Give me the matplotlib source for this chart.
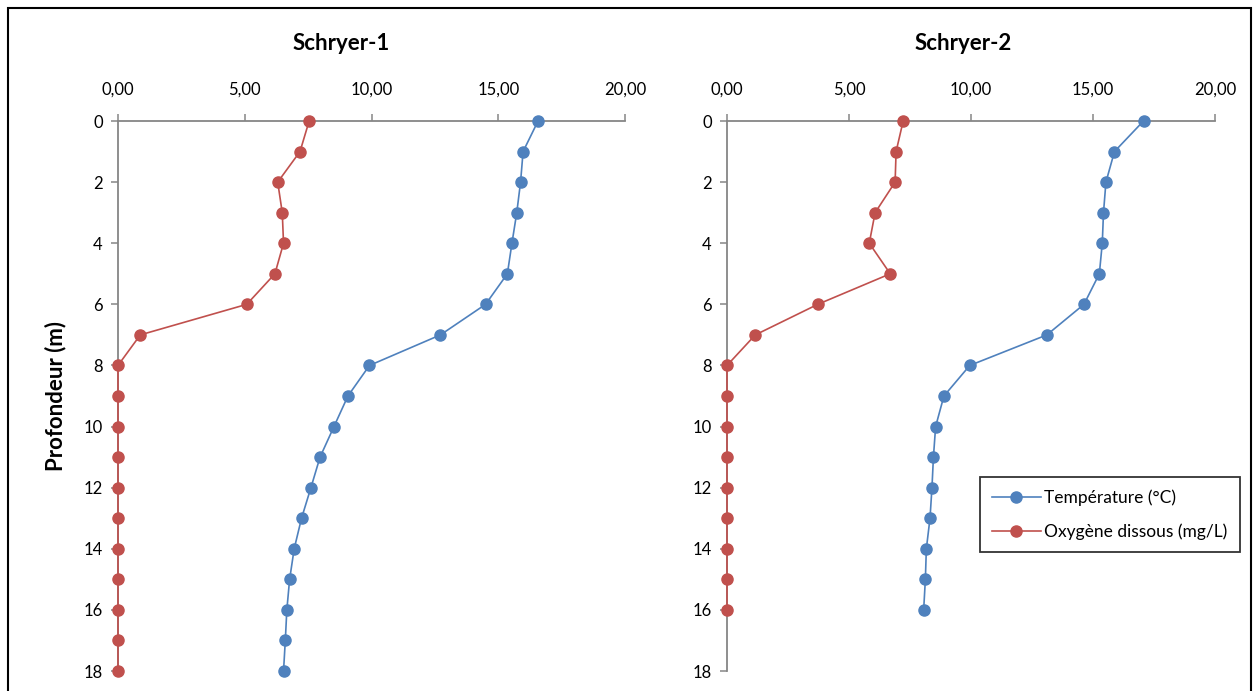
import matplotlib.pyplot as plt
from matplotlib.patches import Rectangle
from matplotlib.ticker import FuncFormatter

plt.rcParams['font.family'] = ['Lato', 'DejaVu Sans']

# Schryer-1
depth_1 = [0, 1, 2, 3, 4, 5, 6, 7, 8, 9, 10, 11, 12, 13, 14, 15, 16, 17, 18]
temp_1 = [16.57, 15.98, 15.88, 15.73, 15.54, 15.36, 14.50, 12.72, 9.92, 9.07,
          8.52, 7.97, 7.61, 7.24, 6.95, 6.77, 6.66, 6.60, 6.53]
oxy_1 = [7.54, 7.18, 6.30, 6.48, 6.53, 6.19, 5.08, 0.88, 0, 0,
         0, 0, 0, 0, 0, 0, 0, 0, 0]

# Schryer-2
depth_2 = [0, 1, 2, 3, 4, 5, 6, 7, 8, 9, 10, 11, 12, 13, 14, 15, 16]
temp_2 = [17.07, 15.88, 15.53, 15.43, 15.38, 15.26, 14.63, 13.11, 9.95, 8.89,
          8.55, 8.46, 8.40, 8.32, 8.17, 8.13, 8.06]
oxy_2 = [7.22, 6.93, 6.89, 6.07, 5.83, 6.69, 3.72, 1.16, 0, 0,
         0, 0, 0, 0, 0, 0, 0]

x_ticks = [0, 5, 10, 15, 20]
y_ticks = [0, 2, 4, 6, 8, 10, 12, 14, 16, 18]

BLUE = "#4F81BD"
RED = "#C0504D"
GRAY = "#868686"

W, H = 1258, 691
fig = plt.figure(figsize=(W / 100, H / 100), dpi=100)

def px_axes(x0, x1, y0, y1):
    return fig.add_axes([x0 / W, 1 - y1 / H, (x1 - x0) / W, (y1 - y0) / H])

def style(ax):
    ax.set_xlim(0, 20)
    ax.set_ylim(18, 0)
    ax.xaxis.tick_top()
    ax.set_xticks(x_ticks)
    ax.set_yticks(y_ticks)
    ax.xaxis.set_major_formatter(FuncFormatter(lambda v, p: f"{v:.2f}".replace(".", ",")))
    for s in ["right", "bottom"]:
        ax.spines[s].set_visible(False)
    for s in ["top", "left"]:
        ax.spines[s].set_color(GRAY)
        ax.spines[s].set_linewidth(1.3)
    ax.tick_params(axis="both", color=GRAY, width=1.1, length=5, labelsize=12,
                   labelcolor="black", pad=6)
    ax.tick_params(axis="x", pad=12)
    ax.patch.set_alpha(0)

ax1 = px_axes(118, 625, 121, 671)
ax2 = px_axes(727, 1215, 121, 671)

for ax, d, t, o in [(ax1, depth_1, temp_1, oxy_1), (ax2, depth_2, temp_2, oxy_2)]:
    style(ax)
    ax.plot(o, d, color=RED, lw=1.2, marker="o", ms=8, mec=RED, mfc=RED,
            label="Oxygène dissous (mg/L)", clip_on=False, zorder=3)
    ax.plot(t, d, color=BLUE, lw=1.2, marker="o", ms=8, mec=BLUE, mfc=BLUE,
            label="Température (°C)", clip_on=False, zorder=3)

ax1.set_ylabel("Profondeur (m)", fontsize=16, fontweight="bold", labelpad=12)

fig.text(341 / W, 1 - 43 / H, "Schryer-1", ha="center", va="center",
         fontsize=16, fontweight="bold")
fig.text(963 / W, 1 - 43 / H, "Schryer-2", ha="center", va="center",
         fontsize=16, fontweight="bold")

handles, labels = ax2.get_legend_handles_labels()
leg = ax2.legend(handles[::-1], labels[::-1], loc="upper left",
                 bbox_to_anchor=((980 - 727) / (1215 - 727), 1 - (477 - 121) / 550),
                 fontsize=12.5, frameon=True, fancybox=False, borderpad=0.7,
                 labelspacing=1.0, handlelength=2.8, handletextpad=0.2,
                 borderaxespad=0)
leg.get_frame().set_edgecolor("black")
leg.get_frame().set_linewidth(1.3)

fig.patches.append(Rectangle((8 / W, -0.05), (1251 - 8) / W, 1.05 - 8 / H,
                             transform=fig.transFigure, fill=False,
                             edgecolor="black", linewidth=1.5))

fig.savefig("out.png", dpi=100)
